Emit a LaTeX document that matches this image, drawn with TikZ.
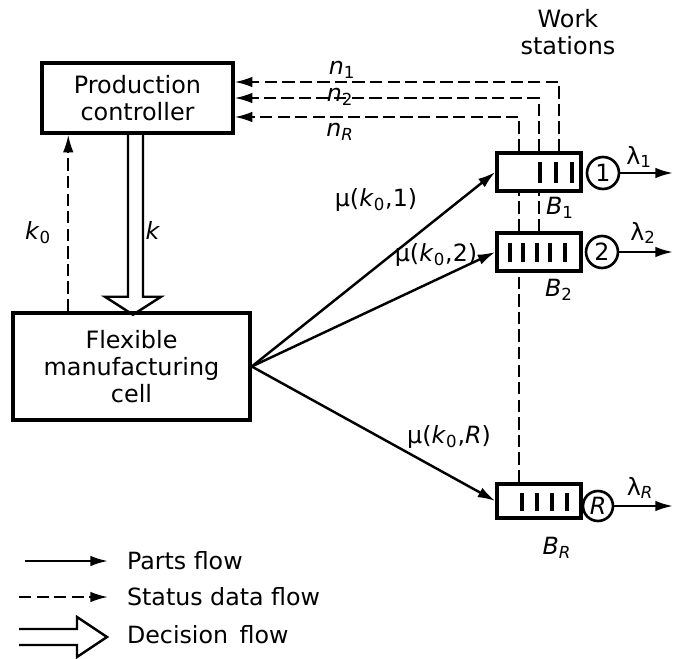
\documentclass[tikz,border=0pt]{standalone}
\usepackage{fontspec}
\setmainfont{DejaVu Sans}
\usetikzlibrary{arrows.meta}
\newcommand{\boxfont}{\fontsize{13.6}{15.5}\selectfont}
\newcommand{\lblfont}{\fontsize{13.5}{15}\selectfont}

\begin{document}
\begin{tikzpicture}[x=0.02cm, y=-0.02cm,
  box/.style={draw, line width=2pt, align=center, font=\boxfont, inner sep=0pt},
  queue/.style={draw, fill=white, line width=1.9pt, minimum width=1.68cm, minimum height=0.76cm, inner sep=0pt},
  server/.style={circle, draw, fill=white, line width=1.5pt, minimum size=0.64cm, inner sep=0pt, font=\lblfont},
  lbl/.style={font=\lblfont, inner sep=1pt},
  parts/.style={line width=1.4pt, -{Latex[length=10pt,width=6pt]}},
  feed/.style={line width=1.2pt, dash pattern=on 7pt off 3pt},
  status/.style={feed, -{Latex[length=10pt,width=6pt]}},
  bar/.style={line width=1.8pt},
  decision/.style={line width=1.4pt, line join=miter}]
\useasboundingbox (0,0) rectangle (674,659);
% Controller and cell
\node[box, minimum width=3.82cm, minimum height=1.4cm] (pc) at (137.5,98) {Production\\controller};
\node[box, minimum width=4.74cm, minimum height=2.14cm] (fmc) at (131.5,366.5) {Flexible\\manufacturing\\cell};
% Work stations
\node[box, draw=none] (ws) at (568,32) {Work\\stations};
\node[queue] (b1) at (539,172) {};
\node[queue] (b2) at (539,252) {};
\node[queue, minimum height=0.68cm] (bR) at (539,501) {};
\foreach \dx in {1,17,33} \draw[bar] (b1.center) ++(\dx,-10) -- ++(0,21);
\foreach \dx in {-29,-16,-2,11,26} \draw[bar] (b2.center) ++(\dx,-9) -- ++(0,19);
\foreach \dx in {-17,-2,13,28} \draw[bar] (bR.center) ++(\dx,-8) -- ++(0,18);
\node[server] (c1) at (603,173) {1};
\node[server] (c2) at (602,252) {2};
\node[server, minimum size=0.6cm] (cR) at (598,506) {\textit{R}};
\node[lbl] (lb1) at (560,208) {\textit{B}\textsubscript{1}};
\node[lbl] (lb2) at (559,290) {\textit{B}\textsubscript{2}};
\node[lbl] (lbR) at (557,548) {\textit{B}\textsubscript{\textit{R}}};
% Outputs
\coordinate (rim) at (673,0);
\draw[parts] (c1.east) -- (c1.east -| rim);
\draw[parts] (c2.east) -- (c2.east -| rim);
\draw[parts] (cR.east) -- (cR.east -| rim);
\node[lbl] (l1) at (639,157) {λ\textsubscript{1}};
\node[lbl] (l2) at (643,233) {λ\textsubscript{2}};
\node[lbl] (lR) at (640,488) {λ\textsubscript{\textit{R}}};
% Parts flow to the stations
\draw[parts] (fmc.east) -- (b1.west);
\draw[parts] (fmc.east) -- (b2.west);
\draw[parts] (fmc.east) -- (bR.west);
\node[lbl] (m1) at (376,200) {μ(\textit{k}\textsubscript{0},1)};
\node[lbl] (m2) at (436,255) {μ(\textit{k}\textsubscript{0},2)};
\node[lbl] (mR) at (449,437) {μ(\textit{k}\textsubscript{0},\textit{R})};
% Status data back to the controller
\draw[status] ([xshift=0.4cm]b1.north) |- ([yshift=0.32cm]pc.east);
\draw[feed] (b2.north) -- (b1.south);
\draw[status] (b1.north) |- (pc.east);
\draw[feed] ([xshift=-0.4cm]bR.north) -- ([xshift=-0.4cm]b2.south);
\draw[feed] ([xshift=-0.4cm]b2.north) -- ([xshift=-0.4cm]b1.south);
\draw[status] ([xshift=-0.4cm]b1.north) |- ([yshift=-0.38cm]pc.east);
\node[lbl] (n1) at (342,70) {\textit{n}\textsubscript{1}};
\node[lbl] (n2) at (340,97) {\textit{n}\textsubscript{2}};
\node[lbl] (nR) at (340,132) {\textit{n}\textsubscript{\textit{R}}};
% k0 and decision k
\coordinate (k0foot) at ([xshift=1.14cm]fmc.north west);
\draw[status] (k0foot) -- (k0foot |- pc.south);
\node[lbl] (k0) at (38,233) {\textit{k}\textsubscript{0}};
\draw[decision] (pc.south) ++(-9.5,0) -- ++(0,162) -- ++(-23,0) -- ++(28,18) -- ++(28,-18) -- ++(-18,0) -- ++(0,-162);
\node[lbl] (k) at (153,230) {\textit{k}};
% Legend
\node[lbl, anchor=west] (pfl) at (125,561) {Parts flow};
\node[lbl, anchor=west] (sfl) at (125,597) {Status data flow};
\node[lbl, anchor=west] (dfl) at (125,635) {Decision\, flow};
\coordinate (pf0) at (25,561);
\coordinate (sf0) at (19,597);
\coordinate (df0) at (19,629);
\draw[parts] (pf0) -- (pf0 -| 108,0);
\draw[status] (sf0) -- (sf0 -| 108,0);
\draw[decision] (df0) -- ++(58,0) -- ++(0,-12) -- ++(30,20) -- ++(-30,20) -- ++(0,-12) -- ++(-58,0);
\end{tikzpicture}
\end{document}
